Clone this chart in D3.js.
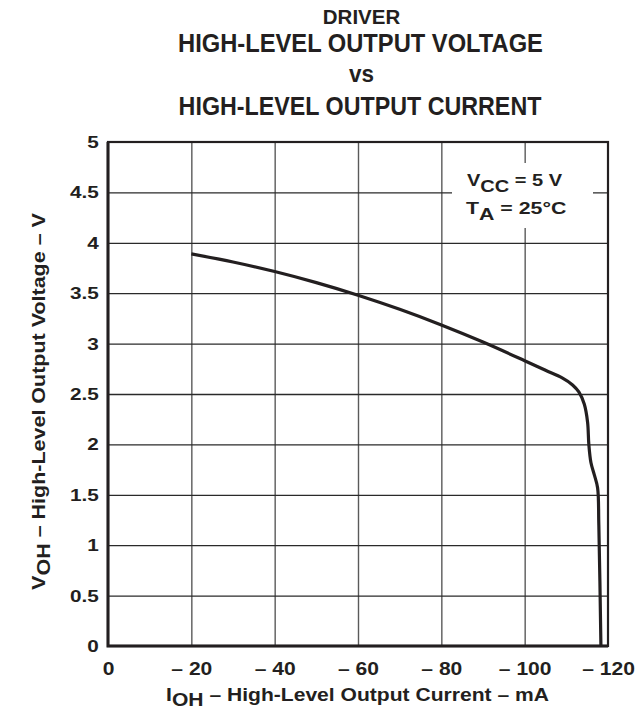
<!DOCTYPE html>
<html>
<head>
<meta charset="utf-8">
<script src="https://cdn.jsdelivr.net/npm/d3@7"></script>
<style>
  body { margin: 0; background: #fff; }
  text { font-family: "Liberation Sans", Arial, sans-serif; font-weight: bold; fill: #231f20; }
</style>
</head>
<body>
<div class="chart"></div>
<script>
// DATA ------------------------------
const titleLines = ["DRIVER", "HIGH-LEVEL OUTPUT VOLTAGE", "vs", "HIGH-LEVEL OUTPUT CURRENT"];
const xTicks = [0, -20, -40, -60, -80, -100, -120];
const yTicks = [0, 0.5, 1, 1.5, 2, 2.5, 3, 3.5, 4, 4.5, 5];

// IOH (mA)
const current = [-20, -30, -40, -50, -60, -70, -80, -90, -100, -105, -109, -111.5, -113, -114.3, -115.1, -115.4, -115.9, -116.7, -117.5, -117.8, -118.3];
// VOH (V)
const voltage = [3.89, 3.81, 3.715, 3.605, 3.48, 3.34, 3.185, 3.015, 2.83, 2.735, 2.66, 2.59, 2.52, 2.40, 2.22, 2.00, 1.82, 1.70, 1.57, 1.20, 0];

// CHART ------------------------------
const W = 639, H = 712;
const margin = ({top: 142, right: 31, bottom: 66, left: 108});
const width = W - margin.left - margin.right,
      height = H - margin.top - margin.bottom;

const svg = d3.select(".chart")
    .append("svg")
    .attr("width", W)
    .attr("height", H);

const g = svg.append("g")
    .attr("transform", "translate(" + margin.left + "," + margin.top + ")");

const xScale = d3.scaleLinear().domain([0, -120]).range([0, width]);
const yScale = d3.scaleLinear().domain([0, 5]).range([height, 0]);

// place a text at (x,y) and stretch it horizontally so it is w px wide
function fitText(parent, x, y, w, size, anchor, rot) {
    const wrap = parent.append("g");
    const t = wrap.append("text")
        .attr("font-size", size)
        .attr("text-anchor", anchor || "start");
    return {t: t, done: function() {
        const bw = t.node().getBBox().width;
        wrap.attr("transform", "translate(" + x + "," + y + ")" + (rot ? " rotate(" + rot + ")" : "") + " scale(" + (w / bw) + ",1)");
    }};
}

// grid
g.append("g")
    .attr("class", "grid")
    .attr("transform", "translate(0," + height + ")")
    .call(d3.axisBottom(xScale).tickValues(xTicks.slice(1, -1)).tickSize(-height).tickFormat(""))
    .call(s => s.select(".domain").remove())
    .call(s => s.selectAll("line").attr("stroke", "#5a5a5a").attr("stroke-width", 1.4));

g.append("g")
    .attr("class", "grid")
    .call(d3.axisLeft(yScale).tickValues(yTicks.slice(1, -1)).tickSize(-width).tickFormat(""))
    .call(s => s.select(".domain").remove())
    .call(s => s.selectAll("line").attr("stroke", "#2a2a2a").attr("stroke-width", 1.3));

// legend box (white, breaks the grid)
g.append("rect")
    .attr("x", 344).attr("y", 21)
    .attr("width", 141).attr("height", 65)
    .attr("fill", "#fff");

let l1 = fitText(svg, 467, 186, 96, 17, "start");
l1.t.append("tspan").text("V");
l1.t.append("tspan").attr("dy", 6).text("CC");
l1.t.append("tspan").attr("dy", -6).text(" = 5 V");
l1.done();
let l2 = fitText(svg, 466, 214, 98, 17, "start");
l2.t.append("tspan").text("T");
l2.t.append("tspan").attr("dy", 6).text("A");
l2.t.append("tspan").attr("dy", -6).text(" = 25\u00B0C");
l2.done();

// frame
g.append("rect")
    .attr("width", width).attr("height", height)
    .attr("fill", "none").attr("stroke", "#231f20").attr("stroke-width", 2.2);
g.append("path")
    .attr("d", "M0,0V" + height + "H" + width)
    .attr("fill", "none").attr("stroke", "#231f20").attr("stroke-width", 3);

// curve
const pts = current.map((c, i) => [c, voltage[i]]);
const line = d3.line()
    .x(d => xScale(d[0]))
    .y(d => yScale(d[1]))
    .curve(d3.curveCatmullRom.alpha(0.5));

g.append("path")
    .datum(pts)
    .attr("d", line)
    .attr("fill", "none")
    .attr("stroke", "#231f20")
    .attr("stroke-width", 3.2)
    .attr("stroke-linejoin", "round");

// tick labels
g.append("g")
    .attr("transform", "translate(0," + height + ")")
    .call(d3.axisBottom(xScale).tickValues(xTicks).tickSize(0).tickPadding(16)
        .tickFormat(d => d === 0 ? "0" : "\u2013 " + Math.abs(d)))
    .call(s => s.select(".domain").remove())
    .call(s => s.selectAll("text")
        .attr("font-size", 18).attr("font-family", null).attr("fill", null)
        .attr("transform", "scale(1.17,1)"));

g.append("g")
    .call(d3.axisLeft(yScale).tickValues(yTicks).tickSize(0).tickPadding(7.5)
        .tickFormat(d => String(d)))
    .call(s => s.select(".domain").remove())
    .call(s => s.selectAll("text")
        .attr("font-size", 17).attr("font-family", null).attr("fill", null)
        .attr("transform", "scale(1.22,1)"));

// title
const titleX = [361.5, 360.5, 361.5, 360];
const titleY = [24, 52, 82, 115];
const titleW = [78, 365, 25, 363];
const titleSize = [20, 25, 24, 25];
titleLines.forEach((t, i) => {
    const f = fitText(svg, titleX[i], titleY[i], titleW[i], titleSize[i], "middle");
    f.t.text(t);
    f.done();
});

// x axis title
let xt = fitText(svg, 357.5, 701, 383, 18, "middle");
xt.t.append("tspan").text("I");
xt.t.append("tspan").attr("dy", 5).text("OH");
xt.t.append("tspan").attr("dy", -5).text(" \u2013 High-Level Output Current \u2013 mA");
xt.done();

// y axis title
let yt = fitText(svg, 45, 401.5, 377, 18, "middle", -90);
yt.t.append("tspan").text("V");
yt.t.append("tspan").attr("dy", 5).text("OH");
yt.t.append("tspan").attr("dy", -5).text(" \u2013 High-Level Output Voltage \u2013 V");
yt.done();
</script>
</body>
</html>
